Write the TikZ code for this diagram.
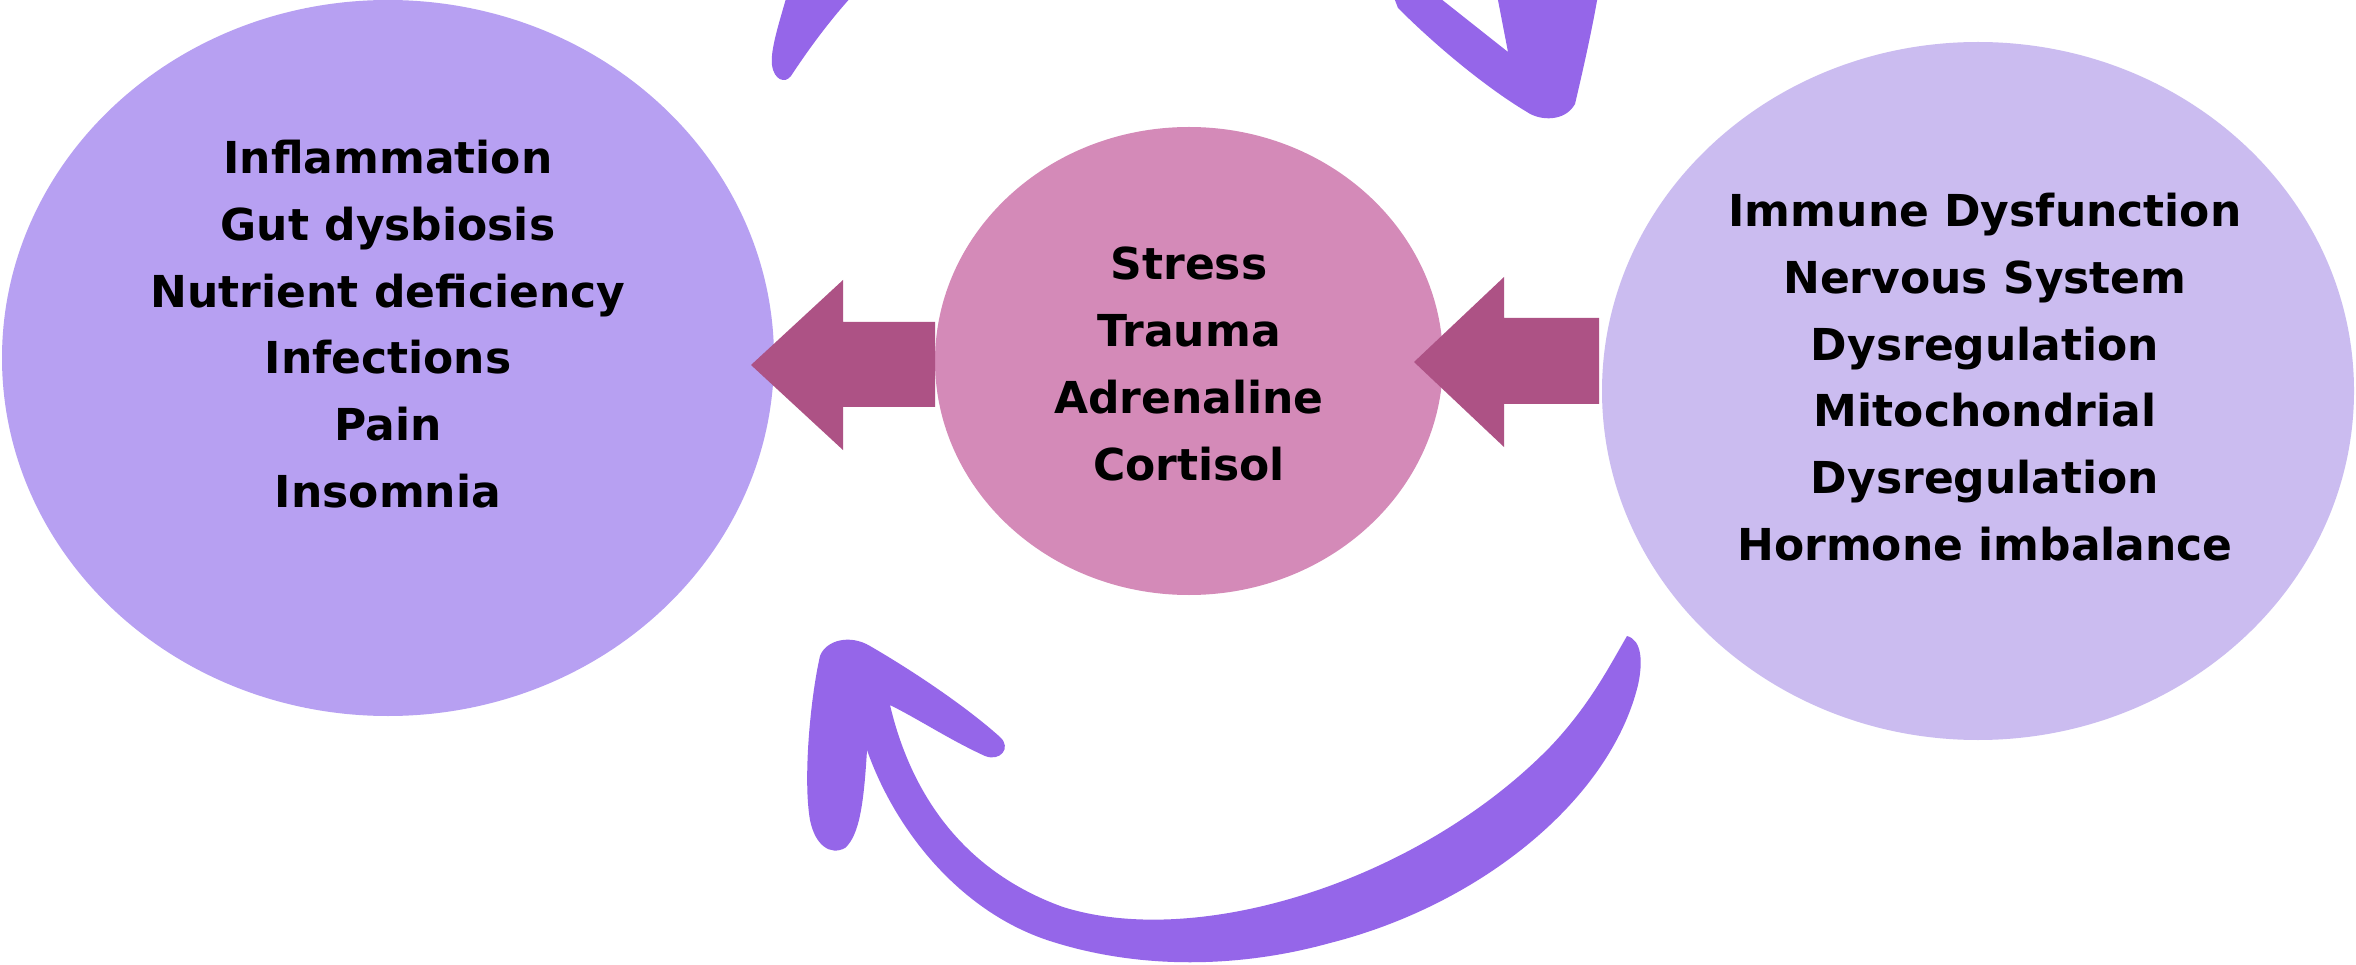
\documentclass[tikz,border=0pt]{standalone}
\usepackage{fontspec}
\setmainfont{DejaVu Sans}
\usetikzlibrary{shapes.geometric}
\definecolor{lellipse}{HTML}{B7A0F2}
\definecolor{rellipse}{HTML}{CBBCF0}
\definecolor{mcircle}{HTML}{D48AB8}
\definecolor{pinkarrow}{HTML}{AD5285}
\definecolor{cyclearrow}{HTML}{9566E9}
\begin{document}
\begin{tikzpicture}[x=1pt,y=-1pt,
  blob/.style={ellipse, inner sep=0pt, draw=none},
  txt/.style={font=\bfseries\fontsize{44}{66.7}\selectfont, align=center, text=black, inner sep=0pt},
  blockarrow/.style={fill=pinkarrow},
  brush/.style={fill=cyclearrow}]
\useasboundingbox (0,0) rectangle (2356,965);
\fill[white] (0,0) rectangle (2356,965);
\clip (0,0) rectangle (2356,965);
% circles
\node[blob, fill=lellipse, minimum width=772pt, minimum height=716pt] (L) at (388,358) {};
\node[blob, fill=rellipse, minimum width=752pt, minimum height=698pt] (R) at (1978,391) {};
\node[blob, fill=mcircle, minimum width=508pt, minimum height=468pt] (M) at (1189,361) {};
% block arrows
\fill[blockarrow] (935,322) -- (843,322) -- (843,280) -- (751,365) -- (843,450) -- (843,407) -- (935,407) -- cycle;
\fill[blockarrow] (1599,318) -- (1504,318) -- (1504,277) -- (1414,362) -- (1504,447) -- (1504,404) -- (1599,404) -- cycle;
% texts
\node[txt] (Ltext) at (388,324) {Inflammation\\Gut dysbiosis\\Nutrient deficiency\\Infections\\Pain\\Insomnia};
\node[txt] (Mtext) at (1189,364) {Stress\\Trauma\\Adrenaline\\Cortisol};
\node[txt] (Rtext) at (1985,377) {Immune Dysfunction\\Nervous System\\Dysregulation\\Mitochondrial\\Dysregulation\\Hormone imbalance};
% top-left tail of the upper cycle arrow
\fill[brush] (787,-5) .. controls (780,20) and (770,50) .. (772,65) .. controls (774,80) and (785,84) .. (791,76) .. controls (808,50) and (830,20) .. (853,-5) -- cycle;
% top-right arrowhead
\fill[brush] (1393,-5) -- (1398,8) .. controls (1440,50) and (1490,90) .. (1527,112) .. controls (1540,121) and (1565,122) .. (1575,104) .. controls (1583,70) and (1592,30) .. (1598,-5) -- (1497,-5) -- (1508,52) -- (1436,-5) -- cycle;
% bottom cycle arrow
\fill[brush] (1627,636) .. controls (1642,640) and (1643,662) .. (1638,685)
  .. controls (1610,800) and (1480,905) .. (1330,943)
  .. controls (1240,968) and (1140,970) .. (1050,941)
  .. controls (960,912) and (895,830) .. (867,750)
  .. controls (864,800) and (860,835) .. (845,848)
  .. controls (830,856) and (815,845) .. (810,820)
  .. controls (803,780) and (810,700) .. (820,656)
  .. controls (826,640) and (850,634) .. (870,646)
  .. controls (920,675) and (970,710) .. (1000,737)
  .. controls (1012,748) and (1000,762) .. (985,756)
  .. controls (950,740) and (920,720) .. (890,705)
  .. controls (910,790) and (960,870) .. (1063,907)
  .. controls (1200,950) and (1420,880) .. (1550,747)
  .. controls (1590,705) and (1610,665) .. (1627,636) -- cycle;
\end{tikzpicture}
\end{document}
